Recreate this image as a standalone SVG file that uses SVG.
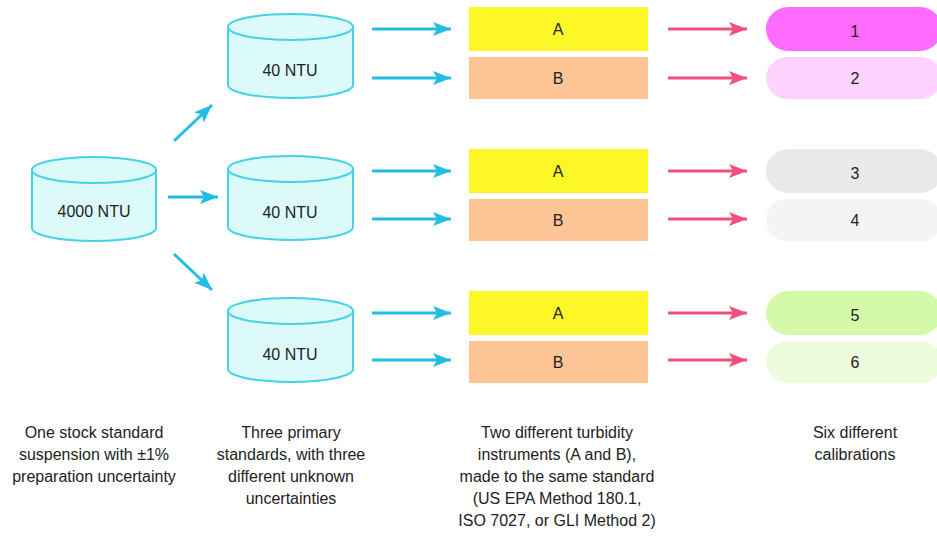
<svg xmlns="http://www.w3.org/2000/svg" width="937" height="538" viewBox="0 0 937 538">
<style>
.cyl{fill:#dcfafa;stroke:#45d2e6;stroke-width:2}
.t{font-family:"Liberation Sans",Arial,sans-serif;font-size:16px;fill:#222;text-anchor:middle}
.ca{stroke:#22bde3;stroke-width:3;fill:none;marker-end:url(#ah)}
.ra{stroke:#f0507a;stroke-width:3;fill:none;marker-end:url(#rh)}
.A{fill:#fef728}
.B{fill:#fdc596}
</style>
<defs>
<marker id="ah" markerUnits="userSpaceOnUse" markerWidth="20" markerHeight="16" refX="18" refY="8" orient="auto"><path d="M0,1 L18,8 L0,15 L4,8 Z" fill="#22bde3"/></marker>
<marker id="rh" markerUnits="userSpaceOnUse" markerWidth="20" markerHeight="16" refX="18" refY="8" orient="auto"><path d="M0,1 L18,8 L0,15 L4,8 Z" fill="#f0507a"/></marker>
</defs>
<rect width="937" height="538" fill="#fff"/>
<g id="stock">
<path class="cyl" d="M32,170 V228 A62 13 0 0 0 156,228 V170 Z"/>
<ellipse class="cyl" cx="94" cy="170" rx="62" ry="13"/>
<text class="t" x="94" y="217">4000 NTU</text>
</g>
<g id="std1">
<path class="cyl" d="M228,27 V85 A62.5 13 0 0 0 353,85 V27 Z"/>
<ellipse class="cyl" cx="290.5" cy="27" rx="62.5" ry="13"/>
<text class="t" x="290" y="76">40 NTU</text>
</g>
<g id="std2">
<path class="cyl" d="M228,169 V227 A62.5 13 0 0 0 353,227 V169 Z"/>
<ellipse class="cyl" cx="290.5" cy="169" rx="62.5" ry="13"/>
<text class="t" x="290" y="218">40 NTU</text>
</g>
<g id="std3">
<path class="cyl" d="M228,311 V369 A62.5 13 0 0 0 353,369 V311 Z"/>
<ellipse class="cyl" cx="290.5" cy="311" rx="62.5" ry="13"/>
<text class="t" x="290" y="360">40 NTU</text>
</g>
<g id="inst1A"><rect class="A" x="469" y="7" width="179" height="44"/><text class="t" x="558" y="35">A</text></g>
<g id="inst1B"><rect class="B" x="469" y="57" width="179" height="42"/><text class="t" x="558" y="84">B</text></g>
<g id="inst2A"><rect class="A" x="469" y="149" width="179" height="44"/><text class="t" x="558" y="177">A</text></g>
<g id="inst2B"><rect class="B" x="469" y="199" width="179" height="42"/><text class="t" x="558" y="226">B</text></g>
<g id="inst3A"><rect class="A" x="469" y="291" width="179" height="44"/><text class="t" x="558" y="319">A</text></g>
<g id="inst3B"><rect class="B" x="469" y="341" width="179" height="42"/><text class="t" x="558" y="368">B</text></g>
<g id="cal1"><rect x="766" y="7" width="176" height="44" rx="22" fill="#ff6cff"/><text class="t" x="855" y="37">1</text></g>
<g id="cal2"><rect x="766" y="57" width="176" height="42" rx="21" fill="#ffd3ff"/><text class="t" x="855" y="84">2</text></g>
<g id="cal3"><rect x="766" y="149" width="176" height="44" rx="22" fill="#e8eaea"/><text class="t" x="855" y="179">3</text></g>
<g id="cal4"><rect x="766" y="199" width="176" height="42" rx="21" fill="#f3f4f4"/><text class="t" x="855" y="226">4</text></g>
<g id="cal5"><rect x="766" y="291" width="176" height="44" rx="22" fill="#d4f9a8"/><text class="t" x="855" y="321">5</text></g>
<g id="cal6"><rect x="766" y="341" width="176" height="42" rx="21" fill="#ecfcdc"/><text class="t" x="855" y="368">6</text></g>
<g id="connectors">
<line class="ca" x1="174" y1="141" x2="212" y2="105"/>
<line class="ca" x1="168" y1="197" x2="218" y2="197"/>
<line class="ca" x1="174" y1="254" x2="212" y2="290"/>
<line class="ca" x1="372" y1="29" x2="451" y2="29"/>
<line class="ca" x1="372" y1="78" x2="451" y2="78"/>
<line class="ca" x1="372" y1="171" x2="451" y2="171"/>
<line class="ca" x1="372" y1="219" x2="451" y2="219"/>
<line class="ca" x1="372" y1="313" x2="451" y2="313"/>
<line class="ca" x1="372" y1="360" x2="451" y2="360"/>
<line class="ra" x1="668" y1="29" x2="747" y2="29"/>
<line class="ra" x1="668" y1="78" x2="747" y2="78"/>
<line class="ra" x1="668" y1="171" x2="747" y2="171"/>
<line class="ra" x1="668" y1="219" x2="747" y2="219"/>
<line class="ra" x1="668" y1="313" x2="747" y2="313"/>
<line class="ra" x1="668" y1="360" x2="747" y2="360"/>
</g>
<g id="captions">
<text class="t" x="94" y="438">One stock standard</text>
<text class="t" x="94" y="460">suspension with ±1%</text>
<text class="t" x="94" y="482">preparation uncertainty</text>
<text class="t" x="291" y="438">Three primary</text>
<text class="t" x="291" y="460">standards, with three</text>
<text class="t" x="291" y="482">different unknown</text>
<text class="t" x="291" y="504">uncertainties</text>
<text class="t" x="557" y="438">Two different turbidity</text>
<text class="t" x="557" y="460">instruments (A and B),</text>
<text class="t" x="557" y="482">made to the same standard</text>
<text class="t" x="557" y="504">(US EPA Method 180.1,</text>
<text class="t" x="557" y="526">ISO 7027, or GLI Method 2)</text>
<text class="t" x="855" y="438">Six different</text>
<text class="t" x="855" y="460">calibrations</text>
</g>
</svg>
